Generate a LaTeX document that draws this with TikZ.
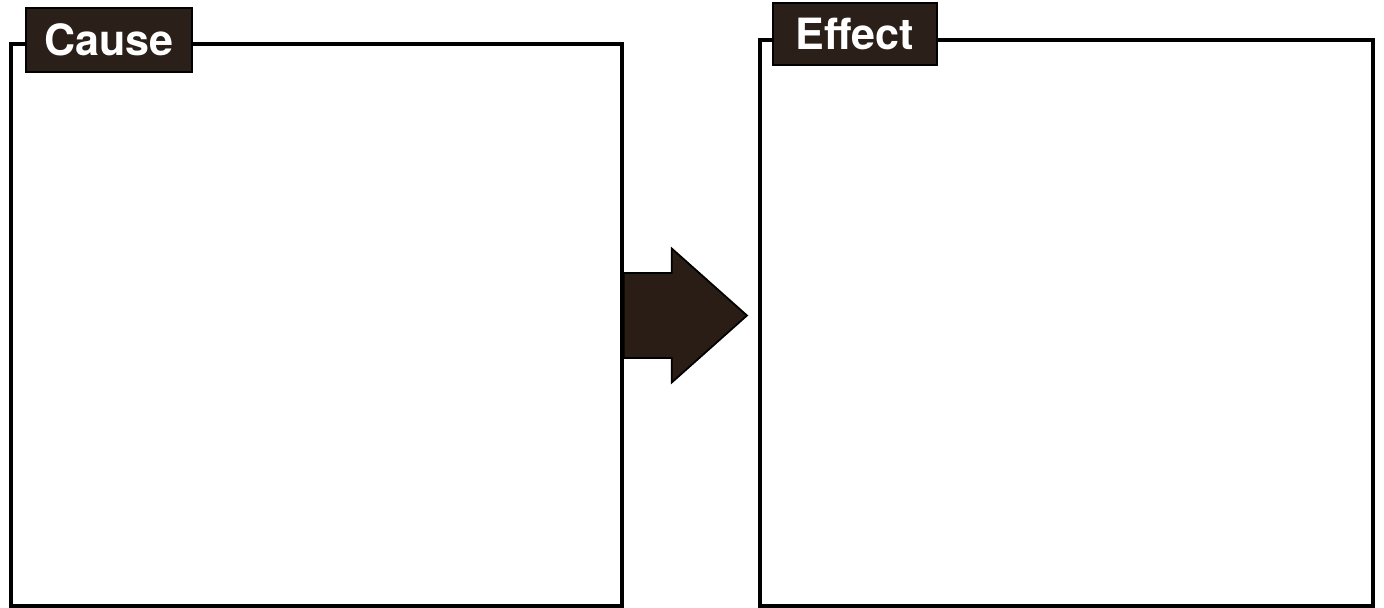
\documentclass[tikz,border=0pt]{standalone}
\usepackage{fontspec}
\newfontfamily\labelfont{TeX Gyre Heros}
\usetikzlibrary{positioning, calc}
\definecolor{labelbrown}{HTML}{2B2019}
\definecolor{arrowbrown}{HTML}{2A1D16}

\begin{document}
\begin{tikzpicture}[
    panel/.style={rectangle, draw=black, line width=2pt, fill=white},
    tag/.style={rectangle, draw=black, line width=1pt, fill=labelbrown,
                text=white, inner sep=0pt,
                font=\labelfont\bfseries\fontsize{24.5}{28}\selectfont}
]
\useasboundingbox (0,0) rectangle (27.68,-12.16);

% Boxes
\node[panel, minimum width=12.22cm, minimum height=11.24cm] (causebox) at (6.33,-6.50) {};
\node[panel, minimum width=12.26cm, minimum height=11.32cm] (effectbox) at (21.33,-6.46) {};

% Labels
\node[tag, minimum width=3.32cm, minimum height=1.28cm] (cause) at (2.18,-0.80) {Cause};
\node[tag, minimum width=3.28cm, minimum height=1.24cm] (effect) at (17.10,-0.68) {Effect};

% Arrow
\coordinate (tail) at ($(causebox.east)+(0,0.19)$);
\coordinate (tip) at (14.94,-6.31);
\fill[arrowbrown, draw=black, line width=1pt, line join=miter]
    ($(tail)+(0,0.85)$) -- ++(0.96,0) -- ++(0,0.49)
    -- (tip)
    -- ($(tail)+(0.96,-1.34)$) -- ++(0,0.49) -- ($(tail)+(0,-0.85)$) -- cycle;

\end{tikzpicture}
\end{document}
